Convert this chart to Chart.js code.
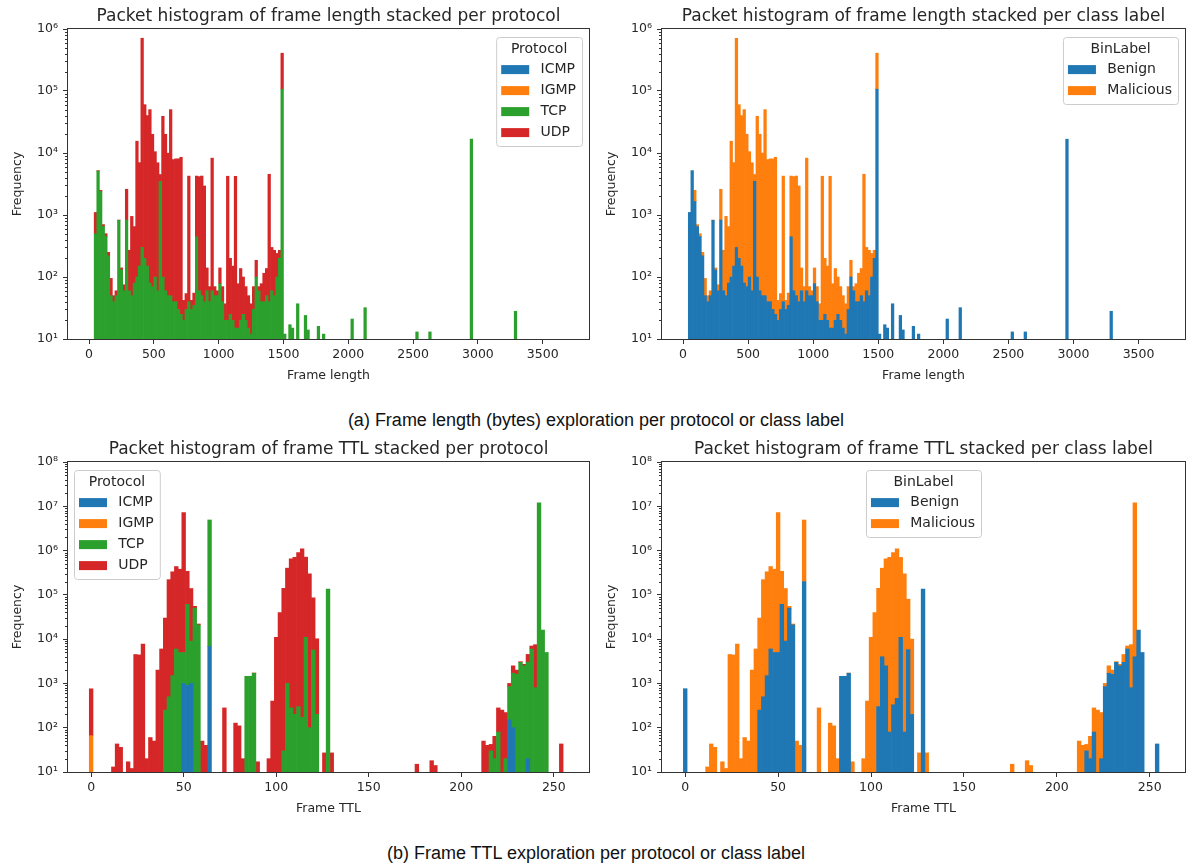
<!DOCTYPE html>
<html lang="en">
<head>
<meta charset="utf-8">
<title>Packet histograms</title>
<script src="https://cdn.jsdelivr.net/npm/chart.js@4.4.1/dist/chart.umd.min.js"></script>
<style>
  html, body { margin: 0; padding: 0; background: #fff; }
  body { position: relative; width: 1192px; height: 864px; overflow: hidden; }
  canvas { position: absolute; }
  .caption {
    position: absolute; left: 0; width: 1192px; text-align: center;
    font-family: "Liberation Sans", Arial, sans-serif; font-size: 18px; line-height: 22px; color: #111;
  }
</style>
</head>
<body>
<canvas id="lenProtocol" width="596" height="395" style="left:0;top:0"></canvas>
<canvas id="lenLabel" width="596" height="395" style="left:596px;top:0"></canvas>
<div class="caption" style="top:409px">(a) Frame length (bytes) exploration per protocol or class label</div>
<canvas id="ttlProtocol" width="596" height="395" style="left:0;top:433px"></canvas>
<canvas id="ttlLabel" width="596" height="395" style="left:596px;top:433px"></canvas>
<div class="caption" style="top:842px">(b) Frame TTL exploration per protocol or class label</div>
<script>
// ---- values ----

// frame length: centre of each 20-byte bin that holds packets
const lenBins = [
  50, 70, 90, 110, 130, 150, 170, 190, 210, 230,
  250, 270, 290, 310, 330, 350, 370, 390, 410, 430,
  450, 470, 490, 510, 530, 550, 570, 590, 610, 630,
  650, 670, 690, 710, 730, 750, 770, 790, 810, 830,
  850, 870, 890, 910, 930, 950, 970, 990, 1010, 1030,
  1050, 1070, 1090, 1110, 1130, 1150, 1170, 1190, 1210, 1230,
  1250, 1270, 1290, 1310, 1330, 1350, 1370, 1390, 1410, 1430,
  1450, 1470, 1490,
  1510, 1550, 1570, 1610, 1670, 1690, 1770, 1810, 2030, 2130, 2530, 2630, 2950, 3290
];
const lenTcp = [
  500, 5100, 2400, 650, 450, 220, 50, 40, 50, 820,
  130, 60, 830, 60, 50, 80, 100, 150, 300, 200,
  150, 80, 70, 100, 60, 3500, 100, 60, 50, 50,
  40, 40, 30, 25, 20, 30, 40, 30, 35, 445,
  60, 50, 40, 60, 40, 60, 50, 50, 78, 40,
  20, 20, 25, 20, 15, 15, 20, 25, 20, 15,
  12, 30, 100, 60, 40, 40, 50, 40, 60, 50,
  100, 200, 107000,
  12, 17, 15, 37, 24, 14, 16, 12, 21, 32, 13, 13, 16700, 28
];
const lenUdp = [
  600, 100, 100, 50, 50, 30, 45, 10, 10, 10,
  10, 15, 1770, 210, 900, 570, 15400, 6850, 710000, 60000,
  40000, 50000, 20000, 10400, 6900, 1000, 39000, 20000, 9900, 50000,
  7800, 8000, 8000, 8500, 22, 24, 4200, 12, 20, 3800,
  4100, 4200, 2900, 80, 30, 8200, 20, 10, 62, 30,
  17, 4200, 175, 130, 4200, 63, 117, 75, 50, 35,
  25, 40, 86, 10, 38, 75, 87, 4500, 240, 220,
  140, 70, 300000
];
// no ICMP or IGMP bars are visible in the frame length panel
const lenIcmp = [];
const lenIgmp = [];
const lenBenign = [
  1100, 5200, 1650, 650, 450, 220, 50, 40, 50, 820,
  130, 60, 830, 60, 50, 80, 100, 150, 300, 200,
  150, 80, 70, 100, 60, 3500, 100, 60, 50, 50,
  40, 40, 30, 25, 20, 30, 40, 30, 35, 445,
  60, 50, 40, 60, 40, 60, 50, 50, 78, 40,
  20, 20, 25, 20, 15, 15, 20, 25, 20, 15,
  12, 30, 100, 60, 40, 40, 50, 40, 60, 50,
  100, 200, 107000,
  12, 17, 15, 37, 24, 14, 16, 12, 21, 32, 13, 13, 16700, 28
];
const lenMalicious = [
  0, 0, 850, 50, 50, 30, 45, 10, 10, 10,
  10, 15, 1770, 210, 900, 570, 15400, 6850, 710000, 60000,
  40000, 50000, 20000, 10400, 6900, 1000, 39000, 20000, 9900, 50000,
  7800, 8000, 8000, 8500, 22, 24, 4200, 12, 20, 3800,
  4100, 4200, 2900, 80, 30, 8200, 20, 10, 62, 30,
  17, 4200, 175, 130, 4200, 63, 117, 75, 50, 35,
  25, 40, 86, 10, 38, 75, 87, 4500, 240, 220,
  140, 70, 300000
];
const lenXTicks = [0, 500, 1000, 1500, 2000, 2500, 3000, 3500];
const lenYTicks = [10, 100, 1000, 10000, 100000, 1000000];
const lenYLabels = ['10¹', '10²', '10³', '10⁴', '10⁵', '10⁶'];

// TTL: centre of each 2-wide bin that holds packets
const ttlBins = [
  0, 12, 14, 16, 20, 22, 24, 26, 28, 30,
  32, 34, 36, 38, 40, 42, 44, 46, 48, 50,
  52, 54, 56, 58, 60, 62, 64, 72, 78, 80,
  82, 84, 86, 88, 90, 96, 98, 100, 102, 104,
  106, 108, 110, 112, 114, 116, 118, 120, 122, 126,
  128, 130, 176, 184, 186, 212, 214, 216, 218, 220,
  222, 224, 226, 228, 230, 232, 234, 236, 238, 240,
  242, 244, 246, 254
];
const ttlIcmp = [
  0, 0, 0, 0, 0, 0, 0, 0, 0, 0,
  0, 0, 0, 0, 0, 0, 0, 0, 0, 1000,
  900, 1000, 0, 0, 0, 0, 6800, 0, 0, 0,
  0, 0, 0, 0, 0, 0, 0, 0, 0, 0,
  0, 0, 0, 0, 0, 0, 0, 0, 0, 0,
  0, 0, 0, 0, 0, 0, 0, 0, 0, 0,
  0, 0, 150, 100, 0, 0, 0, 20, 0, 0,
  0, 0, 0, 0
];
const ttlIgmp = [66];
const ttlTcp = [
  0, 0, 0, 0, 0, 0, 0, 0, 0, 0,
  0, 0, 0, 0, 250, 500, 1500, 6000, 5000, 4000,
  60000, 8000, 50000, 21000, 0, 0, 4900000, 0, 0, 0,
  0, 1450, 1450, 1700, 0, 0, 0, 0, 0, 30,
  1000, 280, 200, 300, 170, 11000, 100, 5700, 200, 0,
  135000, 0, 0, 0, 0, 0, 0, 30, 20, 80,
  0, 20, 700, 1600, 1600, 3000, 2500, 3000, 6000, 800,
  12000000, 16000, 5000, 0
];
const ttlUdp = [
  690, 13, 43, 36, 17, 12, 4500, 4400, 7700, 20,
  60, 50, 2000, 6000, 29700, 220000, 330000, 430000, 375000, 7200000,
  280000, 130000, 5000, 1000, 50, 40, 0, 280, 127, 110,
  20, 0, 0, 17, 17, 20, 400, 11000, 40000, 140000,
  400000, 650000, 700000, 900000, 1100000, 700000, 300000, 80000, 10000, 27,
  0, 27, 15, 18, 14, 50, 40, 12, 44, 200,
  250, 200, 150, 800, 400, 100, 200, 1500, 1000, 6700,
  0, 0, 0, 43
];
const ttlBenign = [
  760, 0, 0, 0, 0, 0, 0, 0, 0, 0,
  0, 0, 0, 0, 250, 500, 1500, 6000, 5000, 5000,
  61000, 9000, 50000, 21000, 0, 0, 200000, 0, 0, 0,
  0, 1450, 1450, 1700, 0, 0, 0, 0, 0, 300,
  4000, 2500, 80, 330, 460, 11000, 80, 5800, 200, 0,
  135000, 0, 0, 0, 0, 0, 0, 30, 20, 80,
  0, 20, 850, 1700, 1600, 3000, 2500, 3000, 6000, 800,
  4000, 16000, 5000, 43
];
const ttlMalicious = [
  0, 13, 43, 36, 17, 12, 4500, 4400, 7700, 20,
  60, 50, 2000, 6000, 29700, 220000, 330000, 430000, 375000, 7200000,
  280000, 130000, 5000, 1000, 50, 40, 4700000, 280, 127, 110,
  20, 0, 0, 17, 17, 20, 400, 11000, 40000, 140000,
  396000, 648000, 700000, 900000, 1100000, 690000, 300000, 74000, 9800, 27,
  0, 27, 15, 18, 14, 50, 40, 12, 44, 200,
  250, 200, 150, 800, 400, 100, 200, 1500, 1000, 6700,
  12000000, 0, 0, 0
];
const ttlXTicks = [0, 50, 100, 150, 200, 250];
const ttlYTicks = [10, 100, 1000, 10000, 100000, 1000000, 10000000, 100000000];
const ttlYLabels = ['10¹', '10²', '10³', '10⁴', '10⁵', '10⁶', '10⁷', '10⁸'];

// ---- styling ----
const FONT = "'DejaVu Sans', sans-serif";
const TEXT = '#262626';
const AXIS = '#333';
const TAB = { blue: '#1f77b4', orange: '#ff7f0e', green: '#2ca02c', red: '#d62728' };

Chart.defaults.font.family = FONT;
Chart.defaults.color = TEXT;

// only keep bins with packets, stacking is keyed on the x value
function points(bins, values) {
  return bins
    .map((x, i) => ({ x, y: values[i] }))
    .filter(p => p.y > 0);
}

// decades plus the 2..9 minor marks of a matplotlib log axis
function logTicks(decades) {
  const ticks = [];
  decades.forEach((d, i) => {
    ticks.push({ value: d, major: true });
    if (i === decades.length - 1) return;
    for (let m = 2; m <= 9; m++) ticks.push({ value: d * m, major: false });
  });
  return ticks;
}

// axes box, minor ticks and the title centred over the axes (like matplotlib)
const frameBox = {
  id: 'frameBox',
  afterDatasetsDraw(chart, args, opts) {
    const { ctx, chartArea: a, scales: { y } } = chart;
    ctx.save();
    ctx.strokeStyle = AXIS;
    ctx.lineWidth = 1;
    ctx.beginPath();
    y.ticks.forEach(t => {
      if (t.major) return;
      const py = Math.round(y.getPixelForValue(t.value)) + 0.5;
      ctx.moveTo(a.left - 3, py);
      ctx.lineTo(a.left, py);
    });
    ctx.stroke();
    ctx.strokeRect(a.left - 0.5, a.top - 0.5, a.right - a.left + 1, a.bottom - a.top + 1);

    ctx.fillStyle = TEXT;
    ctx.font = '17px ' + FONT;
    ctx.textAlign = 'center';
    ctx.textBaseline = 'alphabetic';
    ctx.fillText(opts.text, (a.left + a.right) / 2, a.top - 8);
    ctx.restore();
  }
};

// legend box drawn inside the axes
const boxLegend = {
  id: 'boxLegend',
  afterDatasetsDraw(chart, args, opts) {
    const { ctx, chartArea: a } = chart;
    const items = chart.data.datasets;
    ctx.save();
    ctx.font = '14px ' + FONT;
    const textW = Math.max(...items.map(d => ctx.measureText(d.label).width));
    const titleW = ctx.measureText(opts.title).width;
    const w = Math.max(44.3 + textW + 6, titleW + 12);
    const h = 32.6 + 21 * (items.length - 1) + 13.4;
    let x = a.right - 7 - w;
    if (opts.loc === 'left') x = a.left + 6;
    if (opts.loc === 'center') x = (a.left + a.right - w) / 2;
    const y = a.top + 8;

    ctx.beginPath();
    if (ctx.roundRect) ctx.roundRect(x + 0.5, y + 0.5, w, h, 3);
    else ctx.rect(x + 0.5, y + 0.5, w, h);
    ctx.fillStyle = 'rgba(255,255,255,0.8)';
    ctx.fill();
    ctx.strokeStyle = '#cccccc';
    ctx.lineWidth = 1;
    ctx.stroke();

    ctx.fillStyle = TEXT;
    ctx.textBaseline = 'middle';
    ctx.textAlign = 'center';
    ctx.fillText(opts.title, x + w / 2, y + 12.6);
    ctx.textAlign = 'left';
    items.forEach((d, i) => {
      const ry = y + 32.6 + 21 * i;
      ctx.fillStyle = d.backgroundColor;
      ctx.fillRect(x + 5, ry - 4.5, 28, 9);
      ctx.fillStyle = TEXT;
      ctx.fillText(d.label, x + 44.3, ry);
    });
    ctx.restore();
  }
};

function drawPanel(p) {
  const tickFont = { family: FONT, size: 12.5 };
  return new Chart(document.getElementById(p.id), {
    type: 'bar',
    data: {
      datasets: p.series.map(([label, values, color]) => ({
        label,
        data: points(p.bins, values),
        backgroundColor: color,
        borderWidth: 0,
        barPercentage: 1,
        categoryPercentage: 1
      }))
    },
    options: {
      responsive: false,
      animation: false,
      devicePixelRatio: 1,
      events: [],
      layout: { padding: { left: 0, right: 7, top: 29, bottom: 0 } },
      plugins: {
        legend: { display: false },
        tooltip: { enabled: false },
        title: { display: false },
        frameBox: { text: p.title },
        boxLegend: { title: p.legendTitle, loc: p.legendLoc }
      },
      scales: {
        x: {
          type: 'linear',
          stacked: true,
          offset: false,
          min: p.xMin,
          max: p.xMax,
          border: { display: false },
          grid: { offset: false, drawOnChartArea: false, drawTicks: true, tickLength: 5, tickColor: AXIS },
          afterBuildTicks: s => { s.ticks = p.xTicks.map(value => ({ value })); },
          afterFit: s => { s.height = 56; },
          ticks: { autoSkip: false, maxRotation: 0, padding: 3, font: tickFont, color: TEXT, callback: v => String(v) },
          title: { display: true, text: p.xLabel, font: tickFont, color: TEXT, padding: { top: 0, bottom: 12 } }
        },
        y: {
          type: 'logarithmic',
          stacked: true,
          min: p.yTicks[0],
          max: p.yTicks[p.yTicks.length - 1],
          border: { display: false },
          grid: {
            drawOnChartArea: false, drawTicks: true, tickLength: 5,
            tickColor: c => (c.tick && c.tick.major ? AXIS : 'rgba(0,0,0,0)')
          },
          afterBuildTicks: s => { s.ticks = logTicks(p.yTicks); },
          afterFit: s => { s.width = p.yWidth; },
          ticks: {
            autoSkip: false, padding: 5, font: tickFont, color: TEXT,
            callback: v => {
              const i = p.yTicks.indexOf(v);
              return i >= 0 ? p.yLabels[i] : '';
            }
          },
          title: { display: true, text: 'Frequency', font: tickFont, color: TEXT, padding: { top: p.yWidth - 57.5, bottom: 0 } }
        }
      }
    },
    plugins: [frameBox, boxLegend]
  });
}

const lenAxis = { bins: lenBins, xMin: -162, xMax: 3857, xTicks: lenXTicks, yTicks: lenYTicks, yLabels: lenYLabels, xLabel: 'Frame length' };
const ttlAxis = { bins: ttlBins, xMin: -12.5, xMax: 269, xTicks: ttlXTicks, yTicks: ttlYTicks, yLabels: ttlYLabels, xLabel: 'Frame TTL' };

const panels = [
  Object.assign({}, lenAxis, {
    id: 'lenProtocol', yWidth: 68, title: 'Packet histogram of frame length stacked per protocol',
    legendTitle: 'Protocol', legendLoc: 'right',
    series: [['ICMP', lenIcmp, TAB.blue], ['IGMP', lenIgmp, TAB.orange], ['TCP', lenTcp, TAB.green], ['UDP', lenUdp, TAB.red]]
  }),
  Object.assign({}, lenAxis, {
    id: 'lenLabel', yWidth: 66, title: 'Packet histogram of frame length stacked per class label',
    legendTitle: 'BinLabel', legendLoc: 'right',
    series: [['Benign', lenBenign, TAB.blue], ['Malicious', lenMalicious, TAB.orange]]
  }),
  Object.assign({}, ttlAxis, {
    id: 'ttlProtocol', yWidth: 68, title: 'Packet histogram of frame TTL stacked per protocol',
    legendTitle: 'Protocol', legendLoc: 'left',
    series: [['ICMP', ttlIcmp, TAB.blue], ['IGMP', ttlIgmp, TAB.orange], ['TCP', ttlTcp, TAB.green], ['UDP', ttlUdp, TAB.red]]
  }),
  Object.assign({}, ttlAxis, {
    id: 'ttlLabel', yWidth: 66, title: 'Packet histogram of frame TTL stacked per class label',
    legendTitle: 'BinLabel', legendLoc: 'center',
    series: [['Benign', ttlBenign, TAB.blue], ['Malicious', ttlMalicious, TAB.orange]]
  })
];

panels.forEach(drawPanel);
</script>
</body>
</html>
